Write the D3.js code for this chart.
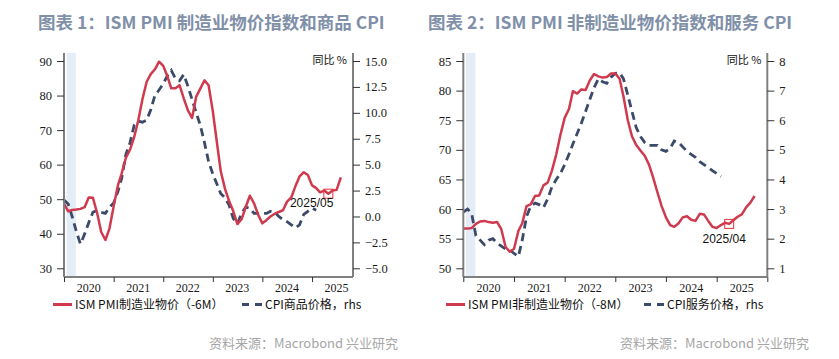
<!DOCTYPE html>
<html><head><meta charset="utf-8">
<script src="https://cdn.jsdelivr.net/npm/d3@7"></script>
<style>body{margin:0;background:#fff}svg{display:block}</style>
</head><body>
<svg id="c" width="839" height="359"></svg>
<script>
// ---------- data (monthly, starting 2020-01) ----------
const years = ["2020","2021","2022","2023","2024","2025"];
const mfgPmiPrices = [48.7,46.5,46.9,47.0,47.2,47.7,50.5,50.4,46.0,40.5,38.2,41.5,
 48.0,54.0,57.5,62.0,64.3,68.0,72.8,79.0,84.0,86.2,87.6,89.8,
 88.6,85.5,82.1,82.1,83.0,79.2,75.8,73.5,79.7,82.0,84.4,83.0,
 75.5,66.2,58.0,53.0,49.5,46.5,42.8,44.2,47.8,51.0,48.8,45.5,
 43.0,44.0,45.0,45.8,46.3,46.8,49.3,50.5,53.8,56.6,57.8,57.0,
 54.0,53.2,52.0,52.5,51.6,52.5,52.7,56.3];
const goodsCpi = [1.6,1.2,0.0,-1.45,-2.65,-1.7,-0.6,0.4,0.6,0.4,0.3,0.9,
 1.3,2.4,3.7,6.0,7.1,8.8,9.2,9.1,9.3,10.3,11.7,12.2,
 12.8,13.6,14.1,13.3,13.1,13.7,12.6,11.3,10.0,8.8,7.1,5.3,
 4.1,3.1,2.2,1.8,1.1,-0.2,-0.7,0.3,0.9,0.8,0.3,0.3,
 0.3,0.3,0.5,0.4,0.0,-0.3,-0.5,-0.8,-1.1,-0.8,0.2,0.5,
 0.8,0.6];
const svcPmiPrices = [56.7,56.7,56.8,57.5,57.9,58.0,57.8,57.7,57.8,56.6,53.6,52.8,
 53.3,56.3,57.6,60.5,60.8,62.2,62.3,64.0,64.5,66.5,69.2,72.5,
 75.4,76.9,79.9,79.5,80.2,80.1,81.7,82.8,82.4,82.2,82.3,82.9,
 82.9,82.0,79.0,75.0,72.3,70.8,69.9,69.0,67.5,65.3,62.8,60.5,
 58.6,57.3,57.0,57.6,58.6,58.8,58.2,58.0,59.2,59.1,58.0,57.0,
 56.8,57.3,57.7,57.5,58.1,58.7,59.1,60.3,61.1,62.2];
const servicesCpi = [2.9,3.0,2.85,2.1,1.95,1.8,1.95,2.0,1.85,1.75,1.65,1.62,
 1.5,1.4,1.95,2.75,3.1,3.2,3.15,3.05,3.35,3.75,4.0,4.2,
 4.5,4.85,5.2,5.55,5.9,6.3,6.7,7.1,7.4,7.3,7.25,7.45,
 7.58,7.6,7.4,6.85,6.3,5.75,5.45,5.25,5.15,5.15,5.15,5.0,
 4.95,5.05,5.3,5.25,5.1,4.95,4.85,4.75,4.6,4.5,4.4,4.3,
 4.2,4.1];
const leftTicks1 = [30,40,50,60,70,80,90];
const rightTicks1 = [-5,-2.5,0,2.5,5,7.5,10,12.5,15];
const leftTicks2 = [50,55,60,65,70,75,80,85];
const rightTicks2 = [1,2,3,4,5,6,7,8];
const recession = ["2020-01-20","2020-03-28"];
const titles = ["图表 1：ISM PMI 制造业物价指数和商品 CPI","图表 2：ISM PMI 非制造业物价指数和服务 CPI"];
const legendA = ["ISM PMI制造业物价（-6M）","ISM PMI非制造业物价（-8M）"];
const legendB = ["CPI商品价格，rhs","CPI服务价格，rhs"];
const marks = [{label:"2025/05", month:"2025-05-01"},{label:"2025/04", month:"2025-04-01"}];
const unitLabel = "同比 %";
const source = "资料来源：Macrobond 兴业研究";

// ---------- drawing ----------
const svg = d3.select("#c");
const parse = d3.timeParse("%Y-%m-%d");
const start = new Date(2020,0,1);
const toSeries = arr => arr.map((v,i)=>({d:d3.timeMonth.offset(start,i), v}));
const RED = "#cf3a4e", NAVY = "#3b4a69", AXIS = "#808080";
const serif = "'Liberation Serif','Times New Roman',serif";
const cjk = "'Noto Sans CJK SC','Noto Sans',sans-serif";

function panel(cfg, k){
  const top = 53, bot = 277;
  const g = svg.append("g");
  const x = d3.scaleTime().domain([start, new Date(2026,0,1)]).range([cfg.x0, cfg.x0 + cfg.yearW*6]);
  const yL = d3.scaleLinear().domain(cfg.leftDom).range([268.3, 61]);
  const yR = d3.scaleLinear().domain(cfg.rightDom).range([268.3, 61]);
  const xl = cfg.x0, xr = cfg.x1;

  svg.append("text").attr("x", cfg.titleX).attr("y", 29).text(titles[k])
    .attr("font-family", cjk).attr("font-weight", "bold").attr("font-size", 17.5).attr("fill", "#7f90a8");

  g.append("rect").attr("x", x(parse(recession[0]))).attr("y", top)
    .attr("width", x(parse(recession[1])) - x(parse(recession[0]))).attr("height", bot-top)
    .attr("fill", "#e4ecf6");

  const cid = "clip"+k;
  svg.append("clipPath").attr("id", cid).append("rect").attr("x", xl).attr("y", top).attr("width", xr-xl).attr("height", bot-top);
  const plot = g.append("g").attr("clip-path", `url(#${cid})`);

  const lineR = d3.line().x(d=>x(d.d)).y(d=>yR(d.v));
  const lineL = d3.line().x(d=>x(d.d)).y(d=>yL(d.v));
  plot.append("path").datum(toSeries(cfg.rhs)).attr("d", lineR).attr("fill","none")
    .attr("stroke", NAVY).attr("stroke-width", 2.8).attr("stroke-dasharray","8,5");
  const redData = toSeries(cfg.lhs);
  plot.append("path").datum(redData).attr("d", lineL).attr("fill","none")
    .attr("stroke", RED).attr("stroke-width", 2.5).attr("stroke-linejoin","round");

  const md = parse(marks[k].month);
  const pt = redData.find(p => +p.d === +md);
  const cx = x(pt.d), cy = yL(pt.v);
  g.append("rect").attr("x", cx-4.5).attr("y", cy-4.5).attr("width", 9).attr("height", 9)
    .attr("fill","none").attr("stroke","#e8333a").attr("stroke-width",1);
  g.append("text").attr("x", cx + cfg.annDx).attr("y", cy + cfg.annDy).attr("text-anchor", cfg.annAnchor)
    .attr("font-family","'Liberation Sans',Arial,sans-serif").attr("font-size",12).attr("fill","#111")
    .text(marks[k].label);

  g.append("line").attr("x1",xl).attr("x2",xl).attr("y1",top).attr("y2",bot).attr("stroke",AXIS).attr("stroke-width",2);
  g.append("line").attr("x1",xr).attr("x2",xr).attr("y1",top).attr("y2",bot).attr("stroke",AXIS).attr("stroke-width",2);
  g.append("line").attr("x1",xl).attr("x2",xr).attr("y1",bot).attr("y2",bot).attr("stroke",AXIS).attr("stroke-width",2);

  const styleAxis = sel => {
    sel.select(".domain").remove();
    sel.selectAll(".tick line").attr("stroke","#333").attr("stroke-width",1);
    sel.selectAll(".tick text").attr("font-family", serif).attr("font-size", 12.5).attr("fill","#1a1a1a");
  };
  g.append("g").attr("transform",`translate(${xl},0)`)
    .call(d3.axisLeft(yL).tickValues(cfg.leftTicks).tickSize(7).tickPadding(5).tickFormat(d3.format("d")))
    .call(styleAxis);
  g.append("g").attr("transform",`translate(${xr},0)`)
    .call(d3.axisRight(yR).tickValues(cfg.rightTicks).tickSize(7).tickPadding(5).tickFormat(cfg.rightFmt))
    .call(styleAxis);
  const yearStarts = years.map(y => new Date(+y,0,1)).concat([new Date(2026,0,1)]).filter(d => x(d) <= xr + 1);
  const bx = g.append("g").attr("transform",`translate(0,${bot})`)
    .call(d3.axisBottom(x).tickValues(yearStarts).tickSize(5).tickFormat(""))
    .call(styleAxis);
  bx.selectAll(".tick text").remove();
  g.selectAll(".yr").data(years).join("text").attr("class","yr")
    .attr("x", y => x(new Date(+y,6,1))).attr("y", 291.5).attr("text-anchor","middle")
    .attr("font-family", serif).attr("font-size", 12).attr("fill","#1a1a1a").text(y => y);

  g.append("text").attr("x", xr-6).attr("y", 64).attr("text-anchor","end")
    .attr("font-family", cjk).attr("font-size", 11).attr("fill","#111").text(unitLabel);

  const ly = 304.5;
  g.append("line").attr("x1", cfg.leg[0]).attr("x2", cfg.leg[0]+19).attr("y1", ly).attr("y2", ly)
    .attr("stroke", RED).attr("stroke-width", 3);
  g.append("text").attr("x", cfg.leg[0]+22).attr("y", ly+4.5).attr("font-family", cjk).attr("font-size", 12)
    .attr("fill","#111").text(legendA[k]);
  g.append("line").attr("x1", cfg.leg[1]).attr("x2", cfg.leg[1]+20).attr("y1", ly).attr("y2", ly)
    .attr("stroke", NAVY).attr("stroke-width", 3).attr("stroke-dasharray","7,6");
  g.append("text").attr("x", cfg.leg[1]+23).attr("y", ly+4.5).attr("font-family", cjk).attr("font-size", 12)
    .attr("fill","#111").text(legendB[k]);

  svg.append("text").attr("x", cfg.srcX).attr("y", 348).attr("text-anchor","end")
    .attr("font-family", cjk).attr("font-size", 13).attr("fill","#a6a6a6").text(source);
}

panel({x0:64, x1:353, yearW:49.6, leftDom:[30,90], rightDom:[-5,15], lhs:mfgPmiPrices, rhs:goodsCpi,
  leftTicks:leftTicks1, rightTicks:rightTicks1, rightFmt:d3.format(".1f"), titleX:38,
  annDx:5, annDy:13, annAnchor:"end", leg:[53,242], srcX:398}, 0);
panel({x0:463.3, x1:767.3, yearW:50.67, leftDom:[50,85], rightDom:[1,8], lhs:svcPmiPrices, rhs:servicesCpi,
  leftTicks:leftTicks2, rightTicks:rightTicks2, rightFmt:d3.format("d"), titleX:428,
  annDx:-5, annDy:19, annAnchor:"middle", leg:[446,644], srcX:809}, 1);
</script>
</body></html>
